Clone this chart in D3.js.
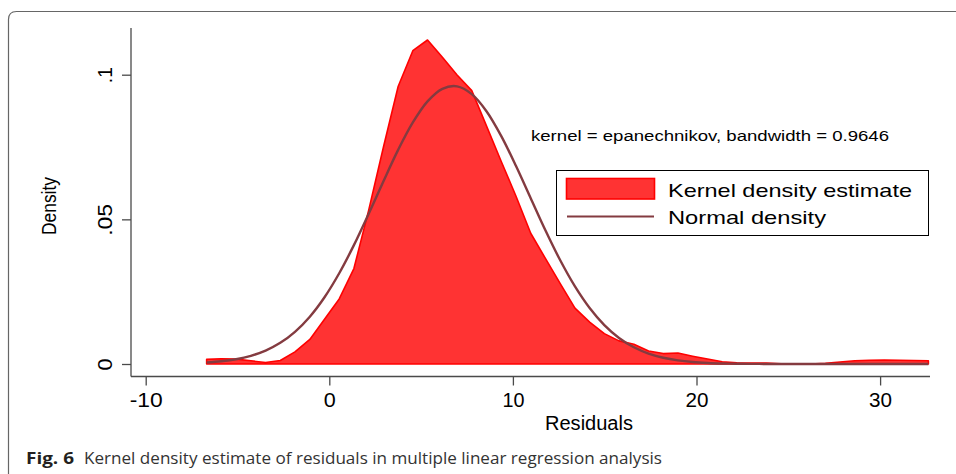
<!DOCTYPE html>
<html>
<head>
<meta charset="utf-8">
<script src="https://cdn.jsdelivr.net/npm/d3@7"></script>
<style>
  html, body { margin: 0; padding: 0; background: #fff; }
  svg { display: block; }
</style>
</head>
<body>
<svg id="chart" width="956" height="474"></svg>
<script>
// ---- Data ----
const gridX = [-6.68,-5.88,-5.08,-4.27,-3.47,-2.67,-1.87,-1.06,-0.26,0.54,
  1.34,2.14,2.95,3.75,4.55,5.35,6.16,6.96,7.76,8.56,
  9.36,10.17,10.97,11.77,12.57,13.38,14.18,14.98,15.78,16.59,
  17.39,18.19,18.99,19.79,20.60,21.40,22.20,23.00,23.81,24.61,
  25.41,26.21,27.02,27.82,28.62,29.42,30.23,31.03,31.83,32.63];
const kernelDensity = [0.0016,0.0018,0.0017,0.0011,0.0005,0.0012,0.0042,0.0085,0.0155,0.0225,
  0.0330,0.0530,0.0750,0.0959,0.1083,0.1120,0.1060,0.0999,0.0945,0.0823,
  0.0701,0.0580,0.0452,0.0365,0.0279,0.0193,0.0145,0.0105,0.0080,0.0068,
  0.0045,0.0036,0.0038,0.0027,0.0017,0.0008,0.0004,0.0003,0.0003,0.0001,
  0.0000,0.0000,0.0002,0.0007,0.0011,0.0013,0.0014,0.0013,0.0012,0.0011];
const normalDensity = [0.00051,0.00094,0.00165,0.00283,0.00463,0.00731,0.01112,0.01636,0.02308,0.03137,
  0.04108,0.05186,0.06319,0.07401,0.08350,0.09079,0.09513,0.09598,0.09329,0.08738,
  0.07885,0.06843,0.05731,0.04623,0.03594,0.02682,0.01935,0.01345,0.00901,0.00578,
  0.00359,0.00215,0.00124,0.00069,0.00037,0.00019,0.00009,0.00004,0.00002,0.00001,
  0,0,0,0,0,0,0,0,0,0];
const xTicks = [-10, 0, 10, 20, 30];
const xTickLabels = ["-10", "0", "10", "20", "30"];
const yTicks = [0, 0.05, 0.1];
const yTickLabels = ["0", ".05", ".1"];
const legendLabels = ["Kernel density estimate", "Normal density"];
const noteText = "kernel = epanechnikov, bandwidth = 0.9646";
const xTitle = "Residuals";
const yTitle = "Density";
const captionBold = "Fig. 6";
const captionText = "Kernel density estimate of residuals in multiple linear regression analysis";

// ---- Drawing ----
const svg = d3.select("#chart");
const FONT = "'Liberation Sans', Arial, sans-serif";
const fillColor = "#ff3333", edgeColor = "#ff0000", normColor = "#843b40", axisColor = "#4a4a4a";

// outer rounded frame
svg.append("path")
  .attr("d", "M8.5,474 L8.5,19.5 Q8.5,11.5 16.5,11.5 L956,11.5")
  .attr("fill", "none").attr("stroke", "#666").attr("stroke-width", 1.2);

const x = d3.scaleLinear().domain([-10, 30]).range([145.7, 880.1]);
const y = d3.scaleLinear().domain([0, 0.1]).range([364, 74.7]);

const pts = gridX.map((v, i) => ({x: v, k: kernelDensity[i], n: normalDensity[i]}));

// kernel density area
svg.append("path")
  .datum(pts)
  .attr("d", d3.area().x(d => x(d.x)).y0(y(0)).y1(d => y(d.k)))
  .attr("fill", fillColor).attr("stroke", edgeColor).attr("stroke-width", 1.6)
  .attr("stroke-linejoin", "round");

// normal density line
svg.append("path")
  .datum(pts)
  .attr("d", d3.line().curve(d3.curveCatmullRom).x(d => x(d.x)).y(d => y(d.n)))
  .attr("fill", "none").attr("stroke", normColor).attr("stroke-width", 2.4)
  .attr("stroke-linejoin", "round");

// axes
const yAxisX = 131, xAxisY = 376.5;
svg.append("line").attr("x1", yAxisX).attr("x2", yAxisX).attr("y1", 28).attr("y2", xAxisY)
  .attr("stroke", axisColor).attr("stroke-width", 1.3);
svg.append("line").attr("x1", yAxisX).attr("x2", 930).attr("y1", xAxisY).attr("y2", xAxisY)
  .attr("stroke", axisColor).attr("stroke-width", 1.3);

const yLabLen = {"0": 12, ".05": 32, ".1": 16};
const yAxis = d3.axisLeft(y).tickValues(yTicks).tickSize(9).tickFormat((d, i) => yTickLabels[i]);
const gy = svg.append("g").attr("transform", `translate(${yAxisX},0)`).call(yAxis);
gy.select(".domain").remove();
gy.selectAll(".tick line").attr("stroke", axisColor).attr("stroke-width", 1.3);
gy.selectAll(".tick text")
  .attr("font-family", FONT).attr("font-size", 20).attr("fill", "#000")
  .attr("x", 0).attr("dy", 0)
  .attr("text-anchor", "middle")
  .attr("textLength", function() { return yLabLen[this.textContent]; })
  .attr("lengthAdjust", "spacingAndGlyphs")
  .attr("transform", "translate(-19.5,0) rotate(-90)");

const xLabLen = {"-10": 33, "0": 12, "10": 22, "20": 23, "30": 23};
const xAxis = d3.axisBottom(x).tickValues(xTicks).tickSize(9).tickFormat((d, i) => xTickLabels[i]);
const gx = svg.append("g").attr("transform", `translate(0,${xAxisY})`).call(xAxis);
gx.select(".domain").remove();
gx.selectAll(".tick line").attr("stroke", axisColor).attr("stroke-width", 1.3);
gx.selectAll(".tick text")
  .attr("font-family", FONT).attr("font-size", 19.5).attr("fill", "#000")
  .attr("y", 30.5).attr("dy", 0)
  .attr("textLength", function() { return xLabLen[this.textContent]; })
  .attr("lengthAdjust", "spacingAndGlyphs");

// axis titles
svg.append("text").attr("x", 589).attr("y", 430).attr("text-anchor", "middle")
  .attr("font-family", FONT).attr("font-size", 19.5)
  .attr("textLength", 88).attr("lengthAdjust", "spacingAndGlyphs").text(xTitle);
svg.append("text").attr("transform", "translate(55.5,206) rotate(-90)").attr("text-anchor", "middle")
  .attr("font-family", FONT).attr("font-size", 20.5)
  .attr("textLength", 58).attr("lengthAdjust", "spacingAndGlyphs").text(yTitle);

// note
svg.append("text").attr("x", 531).attr("y", 140.5)
  .attr("font-family", FONT).attr("font-size", 15.5)
  .attr("textLength", 358).attr("lengthAdjust", "spacingAndGlyphs").text(noteText);

// legend
svg.append("rect").attr("x", 556.5).attr("y", 170.5).attr("width", 372).attr("height", 65)
  .attr("fill", "#fff").attr("stroke", "#000").attr("stroke-width", 1);
svg.append("rect").attr("x", 566.5).attr("y", 178.5).attr("width", 88).attr("height", 20.5)
  .attr("fill", fillColor).attr("stroke", edgeColor).attr("stroke-width", 1.6);
svg.append("line").attr("x1", 567).attr("x2", 654).attr("y1", 216.5).attr("y2", 216.5)
  .attr("stroke", normColor).attr("stroke-width", 2.2);
const legLen = [244, 158];
svg.selectAll("text.leg").data(legendLabels).enter().append("text")
  .attr("class", "leg").attr("x", 668).attr("y", (d, i) => 197 + i * 26.5)
  .attr("font-family", FONT).attr("font-size", 19)
  .attr("textLength", (d, i) => legLen[i]).attr("lengthAdjust", "spacingAndGlyphs")
  .text(d => d);

// caption
const capFont = "'Open Sans', 'Noto Sans', sans-serif";
svg.append("text").attr("x", 26).attr("y", 464)
  .attr("font-family", capFont).attr("font-size", 16.5).attr("font-weight", "bold").attr("fill", "#231f20")
  .attr("textLength", 48).attr("lengthAdjust", "spacingAndGlyphs").text(captionBold);
svg.append("text").attr("x", 84).attr("y", 464)
  .attr("font-family", capFont).attr("font-size", 16.5).attr("fill", "#333")
  .attr("textLength", 578).attr("lengthAdjust", "spacingAndGlyphs").text(captionText);
</script>
</body>
</html>
